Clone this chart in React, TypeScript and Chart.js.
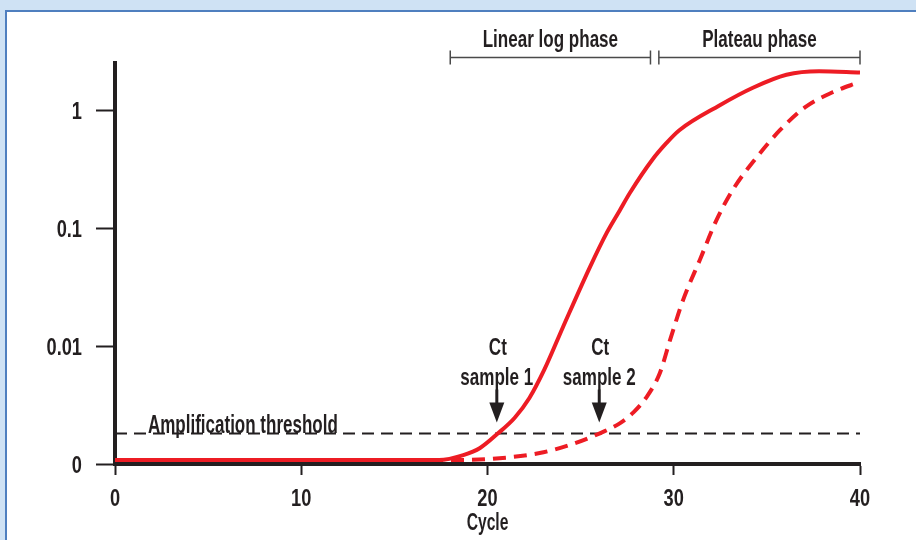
import React, { useEffect, useRef } from "react";
import { Chart, registerables } from "chart.js";

Chart.register(...registerables);

// ---- data ----
const xTickValues = [0, 10, 20, 30, 40];
const xTickLabels = ["0", "10", "20", "30", "40"];
const yTickValues = [0, 1, 2, 3];
const yTickLabels = ["0", "0.01", "0.1", "1"];

const sample1Cycles = [0, 17.4, 18.7, 19.6, 20.55, 21.45, 22.25, 23.05, 24.05, 25.5, 26.4, 27.1, 27.65, 28.85, 29.6, 30.3, 32.45, 34.25, 36.05, 37.8, 40];
const sample1Values = [0.034, 0.034, 0.076, 0.136, 0.258, 0.39, 0.56, 0.8, 1.16, 1.67, 1.96, 2.15, 2.3, 2.58, 2.72, 2.83, 3.04, 3.19, 3.3, 3.33, 3.32];

const sample2Cycles = [0, 18.5, 20.1, 22.8, 24.4, 26.0, 27.1, 27.85, 28.55, 29.25, 29.8, 30.5, 31.4, 32.3, 33.15, 34.45, 35.7, 37.1, 38.5, 40];
const sample2Values = [0.034, 0.034, 0.042, 0.093, 0.16, 0.258, 0.345, 0.44, 0.57, 0.77, 1.05, 1.39, 1.73, 2.07, 2.32, 2.6, 2.83, 3.03, 3.15, 3.24];

const thresholdValue = 0.258;
const thresholdLabel = "Amplification threshold";

const ctCycles = [20.5, 26.0];
const ctLabels = ["sample 1", "sample 2"];

const phaseLabels = ["Linear log phase", "Plateau phase"];
const phaseStarts = [18.0, 29.2];
const phaseEnds = [28.75, 40];

const xTitle = "Cycle";

const INK = "#231f20";
const RED = "#ed1c24";
const FONT = '"Liberation Sans", Arial, sans-serif';

function drawText(
  ctx: CanvasRenderingContext2D,
  s: string,
  x: number,
  y: number,
  size: number,
  align: CanvasTextAlign = "center",
  sx = 0.71
) {
  ctx.save();
  ctx.font = `bold ${size}px ${FONT}`;
  ctx.fillStyle = INK;
  ctx.textAlign = align;
  ctx.textBaseline = "alphabetic";
  ctx.translate(x, y);
  ctx.scale(sx, 1);
  ctx.fillText(s, 0, 0);
  ctx.restore();
}

const annotationPlugin = {
  id: "qpcrAnnotations",
  afterDraw(chart: any) {
    const ctx: CanvasRenderingContext2D = chart.ctx;
    const xs = chart.scales.x;
    const ys = chart.scales.y;

    // x tick labels
    xTickValues.forEach((v, i) => {
      drawText(ctx, xTickLabels[i], xs.getPixelForValue(v), ys.getPixelForValue(0) + 42, 24, "center", 0.76);
    });
    // y tick labels
    yTickValues.forEach((v, i) => {
      drawText(ctx, yTickLabels[i], xs.left - 33, ys.getPixelForValue(v) + 8.5, 24, "right", 0.76);
    });
    // x title
    drawText(ctx, xTitle, xs.getPixelForValue(20), ys.getPixelForValue(0) + 66, 23, "center", 0.68);

    // phase brackets
    const by = 57.5;
    ctx.save();
    ctx.strokeStyle = "#4a4a4a";
    ctx.lineWidth = 1.5;
    phaseLabels.forEach((lab, i) => {
      const a = xs.getPixelForValue(phaseStarts[i]);
      const b = xs.getPixelForValue(phaseEnds[i]);
      ctx.beginPath();
      ctx.moveTo(a, by);
      ctx.lineTo(b, by);
      ctx.moveTo(a, by - 7);
      ctx.lineTo(a, by + 7);
      ctx.moveTo(b, by - 7);
      ctx.lineTo(b, by + 7);
      ctx.stroke();
      drawText(ctx, lab, (a + b) / 2, 47, 24);
    });
    ctx.restore();

    // threshold label
    const ty = ys.getPixelForValue(thresholdValue);
    drawText(ctx, thresholdLabel, xs.getPixelForValue(1.77), ty - 1, 25, "left", 0.68);

    // Ct arrows + labels
    ctCycles.forEach((c, i) => {
      const x = xs.getPixelForValue(c);
      const tip = ty - 11;
      ctx.save();
      ctx.fillStyle = INK;
      ctx.fillRect(x - 1.5, tip - 33, 3, 16);
      ctx.beginPath();
      ctx.moveTo(x - 7.5, tip - 20);
      ctx.lineTo(x + 7.5, tip - 20);
      ctx.lineTo(x, tip);
      ctx.closePath();
      ctx.fill();
      ctx.restore();
      drawText(ctx, "Ct", x + 1, ty - 79, 24);
      drawText(ctx, ctLabels[i], x, ty - 49, 24);
    });
  },
};

export default function App() {
  const ref = useRef<HTMLCanvasElement | null>(null);

  useEffect(() => {
    if (!ref.current) return;
    const chart = new Chart(ref.current, {
      type: "line",
      data: {
        datasets: [
          {
            label: "Sample 1",
            data: sample1Cycles.map((c, i) => ({ x: c, y: sample1Values[i] })),
            borderColor: RED,
            borderWidth: 4,
            pointRadius: 0,
            cubicInterpolationMode: "monotone",
          },
          {
            label: "Sample 2",
            data: sample2Cycles.map((c, i) => ({ x: c, y: sample2Values[i] })),
            borderColor: RED,
            borderWidth: 4,
            borderDash: [13, 8],
            pointRadius: 0,
            cubicInterpolationMode: "monotone",
          },
          {
            label: thresholdLabel,
            data: [
              { x: 0, y: thresholdValue },
              { x: 40, y: thresholdValue },
            ],
            borderColor: INK,
            borderWidth: 2,
            borderDash: [12, 7],
            pointRadius: 0,
          },
        ],
      },
      options: {
        responsive: false,
        animation: false,
        layout: { padding: { left: 96, right: 56, top: 63, bottom: 65 } },
        plugins: { legend: { display: false }, tooltip: { enabled: false } },
        scales: {
          x: {
            type: "linear",
            min: 0,
            max: 40,
            afterBuildTicks: (s: any) => {
              s.ticks = xTickValues.map((v) => ({ value: v }));
            },
            grid: { drawOnChartArea: false, tickLength: 11, tickWidth: 2, tickColor: INK },
            border: { color: INK, width: 4 },
            ticks: { display: false },
          },
          y: {
            type: "linear",
            min: 0,
            max: 3.4,
            afterBuildTicks: (s: any) => {
              s.ticks = yTickValues.map((v) => ({ value: v }));
            },
            grid: { drawOnChartArea: false, tickLength: 19, tickWidth: 2, tickColor: INK },
            border: { color: INK, width: 4 },
            ticks: { display: false },
          },
        },
      },
      plugins: [annotationPlugin],
    } as any);
    return () => chart.destroy();
  }, []);

  return (
    <div style={{ position: "fixed", left: 0, top: 0, width: 916, height: 540, background: "#cfe2f4", overflow: "hidden" }}>
      <div
        style={{
          position: "absolute",
          left: 5,
          top: 10,
          right: -4,
          bottom: -4,
          background: "#ffffff",
          borderLeft: "2px solid #4f7fbf",
          borderTop: "2px solid #4f7fbf",
        }}
      />
      <canvas ref={ref} width={916} height={540} style={{ position: "absolute", left: 0, top: 0 }} />
    </div>
  );
}
